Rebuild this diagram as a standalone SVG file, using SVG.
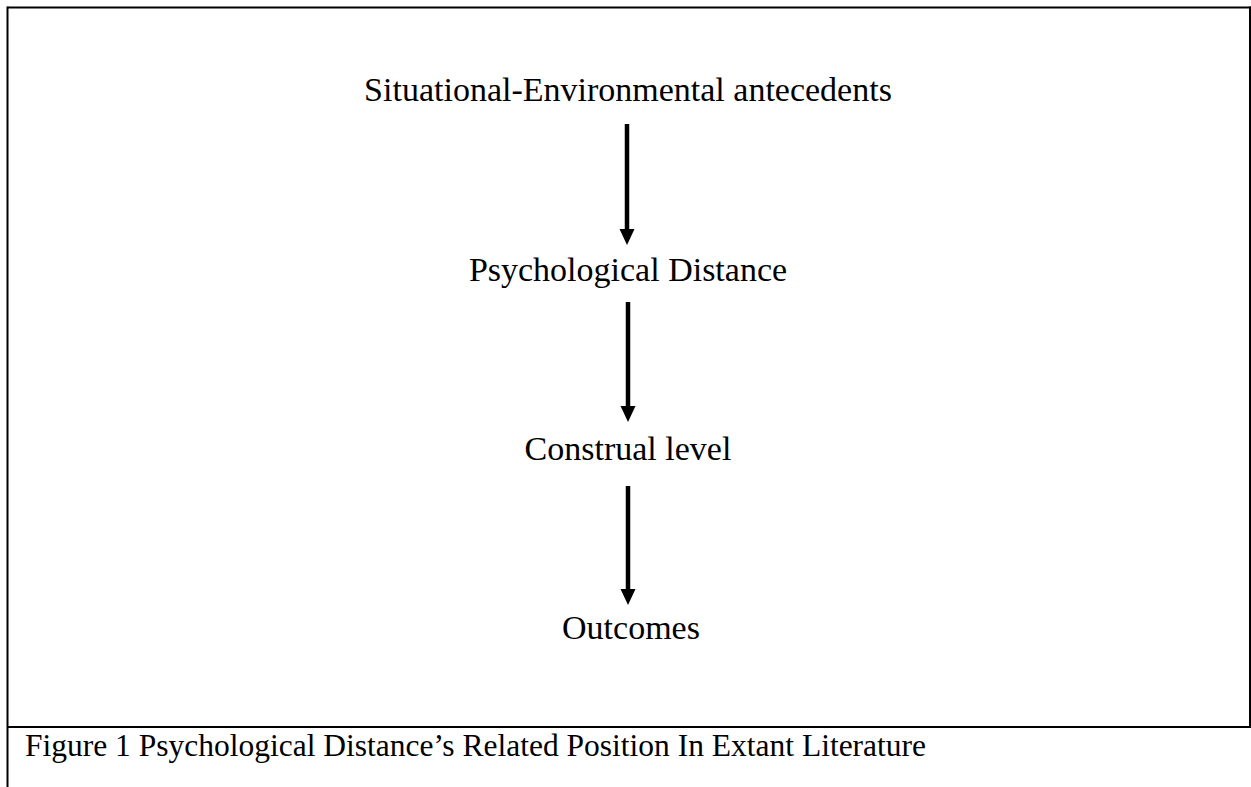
<svg xmlns="http://www.w3.org/2000/svg" width="1251" height="787" viewBox="0 0 1251 787">
  <style>
    .lbl { font-family: "Liberation Serif", "Times New Roman", serif; font-size: 34px; fill: #000; }
    .cap { font-family: "Liberation Serif", "Times New Roman", serif; font-size: 31.5px; fill: #000; }
    .frame { stroke: #000; stroke-width: 2; fill: none; }
    .conn { stroke: #000; stroke-width: 4.5; fill: none; }
    .head { fill: #000; }
  </style>
  <rect width="1251" height="787" fill="#fff"/>
  <g id="frame">
    <line class="frame" x1="7.5" y1="7.5" x2="1251" y2="7.5"/>
    <line class="frame" x1="7.5" y1="6.5" x2="7.5" y2="787"/>
    <line class="frame" x1="1250" y1="6.5" x2="1250" y2="727"/>
    <line class="frame" x1="7.5" y1="727" x2="1251" y2="727"/>
  </g>
  <g id="n1"><text class="lbl" x="628" y="101" text-anchor="middle">Situational-Environmental antecedents</text></g>
  <g id="n2"><text class="lbl" x="628" y="281" text-anchor="middle">Psychological Distance</text></g>
  <g id="n3"><text class="lbl" x="628" y="460" text-anchor="middle">Construal level</text></g>
  <g id="n4"><text class="lbl" x="631" y="639" text-anchor="middle">Outcomes</text></g>
  <g id="connectors">
    <line class="conn" x1="627" y1="124" x2="627" y2="230"/>
    <path class="head" d="M619.5,229 L634.5,229 L627,245 Z"/>
    <line class="conn" x1="628" y1="302" x2="628" y2="407"/>
    <path class="head" d="M620.5,406 L635.5,406 L628,422 Z"/>
    <line class="conn" x1="628" y1="486" x2="628" y2="590"/>
    <path class="head" d="M620.5,589 L635.5,589 L628,605 Z"/>
  </g>
  <g id="caption"><text class="cap" x="25" y="756">Figure 1 Psychological Distance’s Related Position In Extant Literature</text></g>
</svg>
